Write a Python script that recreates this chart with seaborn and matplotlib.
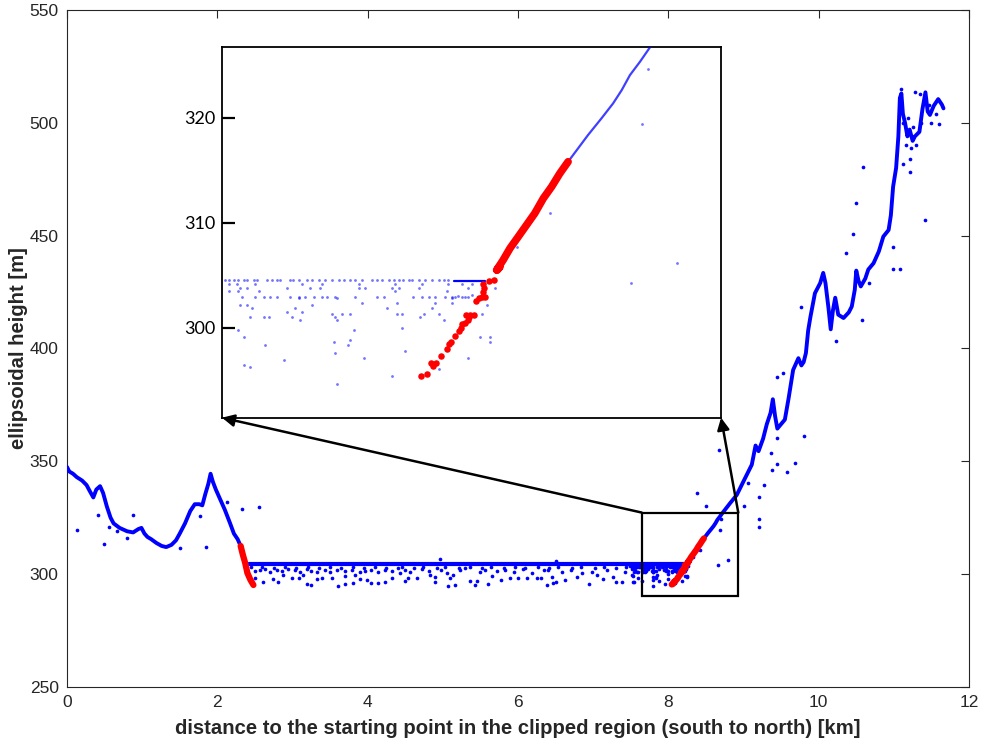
import matplotlib
matplotlib.use("Agg")
import numpy as np
import matplotlib.pyplot as plt
import seaborn as sns
from matplotlib.patches import Rectangle

sns.set_theme(style="white")
plt.rcParams["font.family"] = ["Liberation Sans", "DejaVu Sans"]

BLUE = "#0000FF"
RED = "#FF0000"
INK = "#262626"

# ground profile west of the lake [km, m]
west_km = [0.00, 0.03, 0.08, 0.13, 0.20, 0.26, 0.30, 0.35, 0.39, 0.44, 0.48, 0.53,
           0.58, 0.62, 0.70, 0.80, 0.88, 0.95, 0.99, 1.03, 1.07, 1.12, 1.19, 1.26,
           1.32, 1.39, 1.45, 1.50, 1.57, 1.64, 1.70, 1.76, 1.80, 1.84, 1.88, 1.91,
           1.94, 1.98, 2.04, 2.10, 2.17, 2.22, 2.27, 2.31]
west_m = [347.5, 345.5, 344.5, 343.0, 341.5, 339.5, 337.0, 334.0, 337.5, 339.0, 336.0, 330.0,
          325.0, 322.5, 320.5, 319.0, 318.5, 320.0, 320.5, 318.0, 316.5, 315.5, 313.8, 312.5,
          312.0, 313.0, 315.0, 318.0, 322.5, 328.0, 331.0, 331.0, 330.5, 335.5, 340.0, 344.5,
          341.0, 337.5, 333.0, 328.5, 322.5, 318.0, 315.5, 312.5]

# west bank below the track (highlighted)
west_bank_km = [2.31, 2.34, 2.37, 2.40, 2.44, 2.48]
west_bank_m = [312.5, 308.5, 305.0, 300.5, 297.5, 295.2]

# lake surface returns
surface_km = [2.42, 8.14, 8.23]
surface_m = [304.5, 304.5, 304.5]

# east bank (highlighted): isolated returns at the foot, dense band above
east_bank_km = [8.045, 8.061, 8.074, 8.079, 8.087, 8.103, 8.120, 8.126, 8.132, 8.142,
                8.155, 8.159, 8.163, 8.173, 8.180, 8.175, 8.183, 8.188, 8.199, 8.204,
                8.212, 8.221, 8.231, 8.225, 8.227, 8.223, 8.241, 8.255, 8.266, 8.274,
                8.264, 8.283, 8.303, 8.327, 8.351, 8.375, 8.400, 8.424, 8.448, 8.472]
east_bank_m = [295.44, 295.63, 296.67, 296.42, 296.67, 297.37, 297.97, 298.51, 298.64, 299.21,
               299.74, 299.97, 300.35, 300.50, 300.76, 301.24, 301.07, 301.24, 301.27, 302.57,
               302.82, 302.98, 302.98, 303.45, 303.77, 304.15, 304.47, 304.56, 305.51, 305.83,
               305.51, 306.46, 307.58, 308.68, 309.79, 310.90, 312.33, 313.43, 314.70, 315.81]

# ground profile east of the lake
east_km = [8.472, 8.501, 8.530, 8.569, 8.603, 8.628, 8.652, 8.681, 8.710, 8.82, 8.91,
           9.02, 9.11, 9.16, 9.20, 9.26, 9.31, 9.36, 9.39, 9.42, 9.45, 9.55, 9.60,
           9.66, 9.73, 9.77, 9.80, 9.83, 9.86, 9.89, 9.95, 10.02, 10.06, 10.09, 10.13,
           10.16, 10.19, 10.22, 10.26, 10.33, 10.40, 10.44, 10.48, 10.50, 10.53, 10.56,
           10.62, 10.66, 10.73, 10.80, 10.86, 10.93, 10.96, 10.99, 11.03, 11.06, 11.08,
           11.10, 11.12, 11.15, 11.18, 11.21, 11.25, 11.28, 11.34, 11.38, 11.42, 11.45,
           11.48, 11.53, 11.59, 11.64, 11.66]
east_m = [315.81, 317.08, 318.35, 319.93, 321.36, 322.62, 324.05, 325.31, 326.68, 331.4, 335.1,
          342.5, 348.5, 357.0, 354.5, 360.0, 366.5, 371.5, 377.5, 370.0, 364.5, 368.5, 378.0,
          390.5, 395.7, 392.5, 394.0, 398.0, 408.0, 414.0, 424.5, 429.0, 433.5, 429.0, 418.0,
          408.5, 417.0, 422.5, 415.0, 413.5, 416.0, 418.6, 426.0, 434.5, 430.0, 427.5,
          431.0, 435.0, 437.8, 443.0, 449.6, 452.5, 459.0, 471.7, 480.0, 494.0, 511.0,
          513.0, 504.0, 499.8, 494.0, 497.0, 492.0, 494.0, 496.0, 506.0, 513.5, 505.0,
          503.5, 507.5, 510.5, 508.0, 506.4]

# isolated returns along the whole track
scatter_km = [
    # west slopes
    0.129, 0.417, 0.492, 0.563, 0.670, 0.882, 0.794, 1.503, 1.769, 1.849, 2.124, 2.328, 2.550,
    # below the lake surface, west and central part
    2.45, 2.60, 2.75, 2.90, 3.05, 3.20, 3.35, 3.50, 3.65, 3.80, 3.95, 4.10, 4.25,
    2.50, 2.57, 2.63, 2.70, 2.79, 2.86, 2.94, 3.03, 3.10, 3.19, 3.25, 3.32, 3.43, 3.50,
    3.59, 3.70, 3.79, 3.90, 3.96, 4.05, 4.14, 4.23, 4.32,
    2.61, 2.74, 2.81, 2.99, 3.08, 3.19, 3.25, 3.32, 3.39, 3.52, 3.61, 3.70, 3.81, 3.90,
    3.99, 4.05, 4.14, 4.23, 4.32, 2.50, 2.88, 3.14, 3.70, 3.83,
    4.41, 4.50, 4.56, 4.43, 4.54, 4.50, 4.65, 4.72, 4.81, 4.83, 4.90, 4.90, 4.96, 4.98,
    5.05, 5.09, 5.14, 5.07, 5.16, 5.23, 5.30, 5.36, 5.45, 5.43, 5.49, 5.56, 5.60, 5.65,
    5.72, 5.78, 5.83, 5.89, 5.94, 6.00, 6.07, 6.12, 6.18, 6.25, 6.31, 6.34,
    4.46, 4.61, 4.74, 4.92, 5.03, 5.21, 5.36, 5.52, 5.64, 5.81, 5.96, 6.09, 6.26, 6.41,
    6.53, 6.72, 6.84, 7.02, 7.14, 7.31, 7.44,
    6.51, 6.40, 6.45, 6.38, 6.47, 6.51, 6.58, 6.62, 6.71, 6.78, 6.85, 6.94, 6.98, 7.05,
    7.13, 7.18, 7.27, 7.31, 7.38, 7.42,
    # below the lake surface, east end
    7.475, 7.484, 7.499, 7.513, 7.528, 7.538, 7.557, 7.567, 7.596, 7.610, 7.625, 7.635,
    7.664, 7.673, 7.688, 7.712, 7.727, 7.746, 7.766, 7.785, 7.804, 7.819, 7.838, 7.853,
    7.872, 7.901, 7.916, 7.930, 7.950, 7.964, 7.979, 7.993, 8.008, 8.018, 8.037, 8.056,
    8.076, 8.095, 8.110, 8.124,
    7.484, 7.509, 7.562, 7.698, 7.756, 7.863, 7.969, 8.047, 8.124, 8.163, 8.192,
    7.518, 7.538, 7.654, 7.722, 7.751, 7.863, 7.882, 7.959, 7.979, 8.037, 8.182, 8.260,
    7.484, 7.513, 7.572, 7.969, 8.119,
    7.523, 7.562, 7.586, 7.606, 7.625, 7.664, 7.688, 7.707, 7.732, 7.756, 7.770, 7.795,
    7.853, 7.916, 7.935, 8.022, 8.047, 8.066, 8.086, 8.115, 8.134, 8.144, 8.163, 8.182,
    8.153, 8.172, 8.192, 8.210, 8.225,
    7.688, 7.800, 8.134, 7.872, 7.974, 8.086, 8.134, 7.518, 7.538, 7.727, 8.236,
    7.552, 7.678, 7.945, 8.076, 7.654, 7.698,
    7.785, 7.814, 7.838, 7.974, 7.989, 8.052, 8.095, 8.202, 8.221,
    7.547, 7.586, 7.601, 7.669, 7.795, 8.042, 7.693, 7.800, 8.110,
    7.989, 7.513, 7.848, 7.528, 8.216, 8.245, 7.838, 7.790, 8.245, 7.591, 7.833,
    7.998, 7.793, 7.877, 8.182, 7.644, 7.528, 7.547, 8.095, 7.961, 7.800,
    # east slopes
    8.654, 8.790, 8.686, 8.705, 8.419, 8.322, 8.674, 8.386, 8.500,
    9.362, 9.441, 9.685, 9.574, 9.375, 9.272, 9.206, 9.206, 9.206, 9.010, 9.063,
    9.450, 9.450, 9.520, 9.800, 9.770, 10.23, 10.36, 10.45, 10.50, 10.57, 10.59,
    10.67, 10.99, 10.99, 11.08, 11.12, 11.21, 11.21, 11.42, 11.60, 11.28, 11.35, 11.09,
    11.12, 11.16, 11.19, 11.23, 11.26, 11.30, 11.36, 11.40, 11.47, 11.50, 11.56,
]
scatter_m = [
    319.6, 326.3, 313.4, 320.8, 319.3, 326.3, 315.9, 311.8, 325.8, 311.9, 332.2, 328.8, 329.7,
    303.2, 303.0, 302.8, 303.1, 302.9, 303.3, 302.7, 303.1, 302.8, 303.2, 302.9, 303.0, 302.7,
    301.4, 301.9, 302.3, 301.1, 301.9, 301.4, 302.3, 301.9, 301.1, 302.2, 301.6, 300.9, 301.9, 301.1,
    302.0, 301.4, 301.9, 300.9, 301.6, 302.0, 301.1, 301.9, 301.4,
    296.7, 297.9, 296.4, 298.2, 298.5, 295.5, 295.2, 297.9, 298.2, 298.5, 294.9, 295.8, 296.0, 297.9,
    297.5, 296.0, 296.0, 296.7, 298.2, 298.5, 299.7, 299.7, 299.4, 299.7,
    302.6, 301.9, 301.1, 300.4, 298.2, 297.0, 298.2, 302.3, 301.4, 299.7, 298.9, 296.4, 306.8, 301.9,
    300.4, 298.2, 299.7, 294.9, 295.2, 301.9, 302.6, 297.0, 297.0, 295.2, 301.1, 301.9, 295.5, 299.4,
    301.4, 297.5, 301.9, 298.5, 300.9, 298.2, 302.3, 298.2, 300.4, 298.2, 298.5, 301.9,
    303.0, 302.8, 303.2, 302.9, 303.1, 302.7, 303.0, 302.9, 303.2, 302.8, 303.0, 302.7, 303.1, 302.9,
    303.2, 302.8, 303.0, 302.7, 303.1, 302.9, 303.2,
    305.9, 301.9, 298.9, 295.2, 296.0, 296.7, 301.1, 297.5, 301.9, 298.9, 300.4, 295.5, 301.1, 299.7,
    297.9, 301.9, 298.9, 296.7, 296.4, 300.9,
    304.56, 304.56, 304.56, 304.56, 304.56, 304.56, 304.56, 304.56, 304.56, 304.56, 304.56, 304.56,
    304.56, 304.56, 304.56, 304.56, 304.56, 304.56, 304.56, 304.56, 304.56, 304.56, 304.56, 304.56,
    304.56, 304.56, 304.56, 304.56, 304.56, 304.56, 304.56, 304.56, 304.56, 304.56, 304.56, 304.56,
    304.56, 304.56, 304.56, 304.56,
    304.15, 304.15, 304.15, 304.15, 304.15, 304.15, 304.15, 304.15, 304.15, 304.15, 304.15,
    303.77, 303.77, 303.77, 303.77, 303.77, 303.77, 303.77, 303.77, 303.77, 303.77, 303.77, 303.77,
    303.52, 303.52, 303.52, 303.52, 303.52,
    302.98, 302.98, 302.98, 302.98, 302.98, 302.98, 302.98, 302.98, 302.98, 302.98, 302.98, 302.98,
    302.98, 302.98, 302.98, 302.98, 302.98, 302.98, 302.98, 302.98, 302.98, 302.98, 302.98, 302.98,
    303.00, 302.90, 303.10, 302.95, 303.05,
    302.82, 302.82, 302.82, 302.35, 302.35, 302.35, 302.35, 302.19, 302.19, 302.19, 302.19,
    301.87, 301.87, 301.87, 301.87, 301.55, 301.55,
    301.30, 301.30, 301.30, 301.30, 301.30, 301.30, 301.30, 301.30, 301.30,
    301.08, 301.08, 301.08, 301.08, 301.08, 301.08, 300.76, 300.76, 300.76,
    299.97, 299.81, 299.81, 299.18, 299.18, 299.18, 298.86, 298.70, 298.70, 298.39, 298.39,
    297.81, 297.59, 297.12, 297.12, 296.96, 296.48, 296.33, 296.10, 295.44, 294.68,
    304.25, 306.15, 319.36, 324.60, 310.93, 307.73, 354.8, 336.1, 330.4,
    353.9, 348.8, 349.1, 345.2, 346.2, 339.5, 334.1, 324.5, 321.1, 330.4, 340.6,
    360.2, 387.5, 389.3, 361.4, 418.3, 403.5, 442.2, 450.6, 464.4, 412.6, 480.6,
    428.9, 445.1, 435.2, 435.1, 481.8, 484.1, 478.1, 457.0, 499.5, 513.8, 512.6, 514.9,
    500.0, 490.0, 502.0, 489.0, 498.0, 490.0, 500.0, 509.0, 508.0, 500.0, 504.0,
]

east_bank_km = np.array(east_bank_km)
east_bank_m = np.array(east_bank_m)
surface_km = np.array(surface_km)
surface_m = np.array(surface_m)
east_km = np.array(east_km)
east_m = np.array(east_m)

fig = plt.figure(figsize=(9.81, 7.44), dpi=100)
ax = fig.add_axes([0.0683, 0.0766, 0.9195, 0.9100])

line_kw = dict(sort=False, estimator=None, legend=False)

# overview: full track
sns.scatterplot(x=scatter_km, y=scatter_m, ax=ax, s=7, color=BLUE, linewidth=0, zorder=2)
sns.lineplot(x=west_km, y=west_m, ax=ax, color=BLUE, lw=2.8, zorder=3, **line_kw)
sns.lineplot(x=surface_km, y=surface_m, ax=ax, color=BLUE, lw=3.0, zorder=3, **line_kw)
sns.lineplot(x=east_km, y=east_m, ax=ax, color=BLUE, lw=2.8, zorder=3, **line_kw)
sns.lineplot(x=west_bank_km, y=west_bank_m, ax=ax, color=RED, lw=4.5, zorder=4, **line_kw)
sns.lineplot(x=east_bank_km, y=east_bank_m, ax=ax, color=RED, lw=4.5, zorder=4, **line_kw)

ax.set_xlim(0, 12)
ax.set_ylim(250, 550)
ax.set_xticks(np.arange(0, 13, 2))
ax.set_yticks(np.arange(250, 551, 50))
ax.tick_params(direction="in", top=True, right=True, length=6, width=0.8,
               colors=INK, labelsize=12.5, pad=6)
for sp in ax.spines.values():
    sp.set_color(INK)
    sp.set_linewidth(0.8)
ax.set_xlabel("distance to the starting point in the clipped region (south to north) [km]",
              fontsize=14.6, fontweight="bold", color=INK, labelpad=6)
ax.set_ylabel("ellipsoidal height [m]", fontsize=14.6, fontweight="bold", color=INK, labelpad=1)

# zoom window on the east bank
zoom_x0, zoom_x1 = 7.645, 8.93
zoom_y0, zoom_y1 = 290.5, 327.3
ax.add_patch(Rectangle((zoom_x0, zoom_y0), zoom_x1 - zoom_x0, zoom_y1 - zoom_y0,
                       fill=False, ec="black", lw=1.6, zorder=6))

# detail view
axin = fig.add_axes([0.2263, 0.4386, 0.5087, 0.4978])
axin.set_facecolor("white")
sns.scatterplot(x=scatter_km, y=scatter_m, ax=axin, s=4, color=BLUE, alpha=0.55,
                linewidth=0, zorder=2)
sns.lineplot(x=east_km, y=east_m, ax=axin, color=BLUE, lw=1.6, alpha=0.75, zorder=3, **line_kw)
edge = surface_km >= 8.14
sns.lineplot(x=surface_km[edge], y=surface_m[edge], ax=axin, color=BLUE, lw=1.6, zorder=3, **line_kw)
foot = east_bank_m < 305.5
sns.scatterplot(x=east_bank_km[foot], y=east_bank_m[foot], ax=axin, s=22, color=RED,
                linewidth=0, zorder=4)
sns.lineplot(x=east_bank_km[~foot], y=east_bank_m[~foot], ax=axin, color=RED, lw=5.5,
             zorder=4, **line_kw)
axin.set_xlim(7.465, 8.917)
axin.set_ylim(291.47, 326.69)
axin.set_xticks([])
axin.set_yticks([300, 310, 320])
axin.set_xlabel("")
axin.set_ylabel("")
axin.tick_params(axis="y", direction="in", left=True, length=9, width=1.6,
                 colors="black", labelsize=13, pad=5)
for lbl in axin.get_yticklabels():
    lbl.set_fontfamily(["Lato", "DejaVu Sans"])
for sp in axin.spines.values():
    sp.set_color("black")
    sp.set_linewidth(1.3)

arrow_kw = dict(arrowstyle="-|>", color="black", lw=1.8, mutation_scale=18,
                shrinkA=0, shrinkB=0)
axin.annotate("", xy=(0, 0), xycoords="axes fraction", xytext=(zoom_x0, zoom_y1),
              textcoords=ax.transData, arrowprops=arrow_kw, annotation_clip=False)
axin.annotate("", xy=(1, 0), xycoords="axes fraction", xytext=(zoom_x1, zoom_y1),
              textcoords=ax.transData, arrowprops=arrow_kw, annotation_clip=False)

fig.savefig("out.png", dpi=100)
